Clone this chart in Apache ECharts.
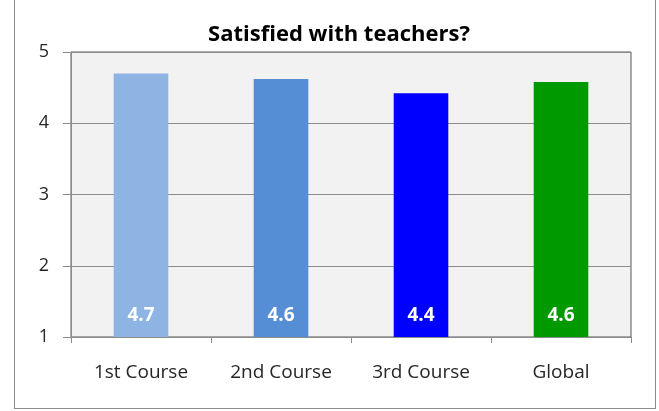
<!DOCTYPE html>
<html>
<head>
<meta charset="utf-8">
<script src="https://cdn.jsdelivr.net/npm/echarts@6/dist/echarts.min.js"></script>
<style>
  html, body { margin: 0; padding: 0; background: #fff; }
  #frame { position: absolute; left: 14px; top: -2px; width: 640px; height: 409px; border: 1px solid #8c8c8c; }
  #chart { position: absolute; left: 0; top: 0; width: 659px; height: 411px; }
</style>
</head>
<body>
<div id="frame"></div>
<div id="chart"></div>
<script>
// data
var categories = ['1st Course', '2nd Course', '3rd Course', 'Global'];
var scores = [4.7, 4.62, 4.42, 4.58];
var barColors = ['#8DB4E2', '#558ED5', '#0000FF', '#009900'];
var yTicks = [1, 2, 3, 4, 5];

var chart = echarts.init(document.getElementById('chart'));
chart.setOption({
  animation: false,
  title: {
    text: 'Satisfied with teachers?',
    left: 334,
    textAlign: 'center',
    top: 19,
    textStyle: { fontFamily: 'Open Sans', fontSize: 22, fontWeight: 'bold', color: '#000' }
  },
  grid: {
    left: 71,
    right: 28,
    top: 52,
    bottom: 74,
    show: true,
    backgroundColor: '#F2F2F2',
    borderColor: '#595959',
    borderWidth: 1
  },
  xAxis: {
    type: 'category',
    data: categories,
    axisLine: { lineStyle: { color: '#8c8c8c' } },
    axisTick: { show: true, length: 6, lineStyle: { color: '#8c8c8c' } },
    axisLabel: { margin: 26, fontFamily: 'Open Sans', fontSize: 19, color: '#262626' }
  },
  yAxis: {
    type: 'value',
    min: yTicks[0],
    max: yTicks[yTicks.length - 1],
    interval: 1,
    axisLine: { show: true, lineStyle: { color: '#8c8c8c' } },
    axisTick: { show: true, length: 8, lineStyle: { color: '#8c8c8c' } },
    axisLabel: { margin: 22, fontFamily: 'Open Sans', fontSize: 18, color: '#262626' },
    splitLine: { lineStyle: { color: '#8c8c8c' } }
  },
  series: [{
    type: 'bar',
    barWidth: '39%',
    data: scores.map(function (v, i) {
      return { value: v, itemStyle: { color: barColors[i] } };
    }),
    label: {
      show: true,
      position: 'insideBottom',
      distance: 12,
      formatter: function (p) { return p.value.toFixed(1); },
      fontFamily: 'Open Sans',
      fontSize: 19,
      fontWeight: 'bold',
      color: '#fff'
    }
  }]
});
</script>
</body>
</html>
